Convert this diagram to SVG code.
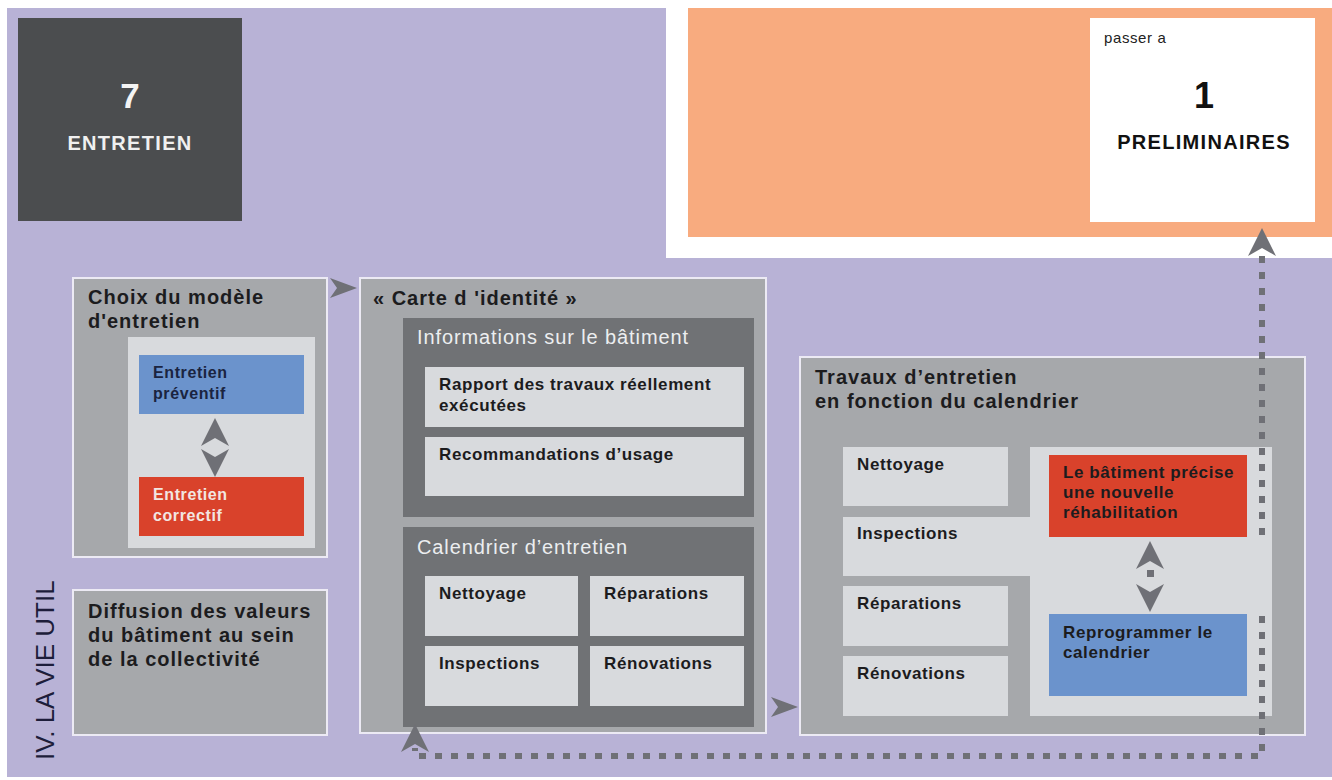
<svg xmlns="http://www.w3.org/2000/svg" xmlns:xlink="http://www.w3.org/1999/xlink" width="1332" height="780" viewBox="0 0 1332 780">
  <style>
    .t { font-family: "Liberation Sans", Arial, sans-serif; }
    .b { font-weight: bold; }
    .panel { fill: #a6a8ab; stroke: #eceaf4; stroke-width: 2; }
    .dark { fill: #707275; }
    .light { fill: #d8dadd; }
    .blue { fill: #6b93cc; }
    .red { fill: #d9422b; }
    .item { font-size: 17px; font-weight: bold; fill: #1c1c1e; letter-spacing: 0.6px; }
    .small { font-size: 16px; font-weight: bold; letter-spacing: 0.6px; }
    .title { font-size: 20px; font-weight: bold; fill: #1c1c1e; letter-spacing: 1px; }
    .sub { font-size: 20px; fill: #eceef0; letter-spacing: 0.9px; }
    .cap { font-size: 20px; font-weight: bold; letter-spacing: 1.3px; }
    .head { fill: #6f7076; }
    .dots { fill: none; stroke: #6f7076; stroke-width: 6; stroke-dasharray: 7 9; }
  </style>
  <defs>
    <!-- notched arrowhead pointing right, tip at origin -->
    <path id="head" d="M0,0 L-28,-14 L-20,0 L-28,14 Z"/>
    <path id="headS" d="M0,0 L-27,-10 L-20,0 L-27,10 Z"/>
  </defs>

  <!-- backgrounds -->
  <rect x="0" y="0" width="1332" height="780" fill="#ffffff"/>
  <rect x="7" y="8" width="1325" height="769" fill="#b8b2d6"/>
  <rect x="666" y="8" width="666" height="250" fill="#ffffff"/>
  <rect x="688" y="8" width="644" height="229" fill="#f8ab7f"/>

  <!-- side label -->
  <text class="t" x="0" y="0" font-size="26" fill="#1d1d3a" transform="translate(54,760) rotate(-90)">IV. LA VIE UTIL</text>

  <g id="entretien">
    <rect x="18" y="18" width="224" height="203" fill="#4b4d4f"/>
    <text class="t b" x="130" y="108" font-size="35" fill="#f4f4f4" text-anchor="middle">7</text>
    <text class="t cap" x="130" y="150" fill="#f0f0f0" text-anchor="middle">ENTRETIEN</text>
  </g>

  <g id="preliminaires">
    <rect x="1090" y="18" width="225" height="204" fill="#ffffff"/>
    <text class="t" x="1104" y="43" font-size="15" fill="#222" letter-spacing="0.6">passer a</text>
    <text class="t b" x="1204" y="108" font-size="36" fill="#111" text-anchor="middle">1</text>
    <text class="t cap" x="1204" y="149" fill="#111" text-anchor="middle">PRELIMINAIRES</text>
  </g>

  <g id="choix-modele">
    <rect class="panel" x="73" y="278" width="254" height="279"/>
    <text class="t title" x="88" y="304">Choix du modèle</text>
    <text class="t title" x="88" y="328">d'entretien</text>
    <rect class="light" x="128" y="337" width="187" height="211"/>
  </g>
  <g id="entretien-preventif">
    <rect class="blue" x="139" y="355" width="165" height="59"/>
    <text class="t small" x="153" y="378" fill="#1a2440">Entretien</text>
    <text class="t small" x="153" y="399" fill="#1a2440">préventif</text>
  </g>
  <g id="entretien-correctif">
    <rect class="red" x="139" y="477" width="165" height="59"/>
    <text class="t small" x="153" y="500" fill="#f2e6e2">Entretien</text>
    <text class="t small" x="153" y="521" fill="#f2e6e2">correctif</text>
  </g>

  <g id="diffusion">
    <rect class="panel" x="73" y="590" width="254" height="145"/>
    <text class="t title" x="88" y="618">Diffusion des valeurs</text>
    <text class="t title" x="88" y="642">du bâtiment au sein</text>
    <text class="t title" x="88" y="666">de la collectivité</text>
  </g>

  <g id="carte-identite">
    <rect class="panel" x="360" y="278" width="406" height="455"/>
    <text class="t title" x="373" y="305">« Carte d 'identité »</text>
  </g>
  <g id="informations">
    <rect class="dark" x="403" y="318" width="351" height="199"/>
    <text class="t sub" x="417" y="344">Informations sur le bâtiment</text>
    <rect class="light" x="425" y="367" width="319" height="60"/>
    <text class="t item" x="439" y="390">Rapport des travaux réellement</text>
    <text class="t item" x="439" y="411">exécutées</text>
    <rect class="light" x="425" y="437" width="319" height="59"/>
    <text class="t item" x="439" y="460">Recommandations d’usage</text>
  </g>
  <g id="calendrier">
    <rect class="dark" x="403" y="527" width="351" height="200"/>
    <text class="t sub" x="417" y="554">Calendrier d’entretien</text>
    <rect class="light" x="425" y="576" width="153" height="60"/>
    <text class="t item" x="439" y="599">Nettoyage</text>
    <rect class="light" x="590" y="576" width="154" height="60"/>
    <text class="t item" x="604" y="599">Réparations</text>
    <rect class="light" x="425" y="646" width="153" height="60"/>
    <text class="t item" x="439" y="669">Inspections</text>
    <rect class="light" x="590" y="646" width="154" height="60"/>
    <text class="t item" x="604" y="669">Rénovations</text>
  </g>

  <g id="travaux">
    <rect class="panel" x="800" y="357" width="505" height="378"/>
    <text class="t title" x="815" y="384">Travaux d’entretien</text>
    <text class="t title" x="815" y="408">en fonction du calendrier</text>
    <rect class="light" x="843" y="447" width="165" height="59"/>
    <text class="t item" x="857" y="470">Nettoyage</text>
    <!-- inspections row merged with the right-hand panel -->
    <path class="light" d="M1030,447 H1272 V716 H1030 V576 H843 V517 H1030 Z"/>
    <text class="t item" x="857" y="539">Inspections</text>
    <rect class="light" x="843" y="586" width="165" height="60"/>
    <text class="t item" x="857" y="609">Réparations</text>
    <rect class="light" x="843" y="656" width="165" height="60"/>
    <text class="t item" x="857" y="679">Rénovations</text>
  </g>
  <g id="rehabilitation">
    <rect class="red" x="1049" y="455" width="198" height="82"/>
    <text class="t item" x="1063" y="478" fill="#f4e8e4">Le bâtiment précise</text>
    <text class="t item" x="1063" y="498" fill="#f4e8e4">une nouvelle</text>
    <text class="t item" x="1063" y="518" fill="#f4e8e4">réhabilitation</text>
  </g>
  <g id="reprogrammer">
    <rect class="blue" x="1049" y="614" width="198" height="82"/>
    <text class="t item" x="1063" y="638" fill="#1a2440" letter-spacing="1">Reprogrammer le</text>
    <text class="t item" x="1063" y="658" fill="#1a2440" letter-spacing="1">calendrier</text>
  </g>

  <g id="connectors">
    <!-- choix -> carte -->
    <use xlink:href="#headS" class="head" transform="translate(357,288)"/>
    <!-- carte -> travaux -->
    <use xlink:href="#headS" class="head" transform="translate(798,707)"/>
    <!-- preventif <-> correctif -->
    <use xlink:href="#head" class="head" transform="translate(215,418) rotate(-90)"/>
    <use xlink:href="#head" class="head" transform="translate(215,477) rotate(90)"/>
    <!-- rehabilitation <-> reprogrammer -->
    <use xlink:href="#head" class="head" transform="translate(1150,541) rotate(-90)"/>
    <rect x="1147" y="570" width="7" height="7" class="head"/>
    <use xlink:href="#head" class="head" transform="translate(1150,612) rotate(90)"/>
    <!-- loop back to calendar and forward to preliminaires -->
    <path class="dots" d="M1262,256 V538"/>
    <path class="dots" d="M1262,616 V756 H415 V748"/>
    <use xlink:href="#head" class="head" transform="translate(1262,228) rotate(-90)"/>
    <use xlink:href="#head" class="head" transform="translate(415,724) rotate(-90)"/>
  </g>
</svg>
